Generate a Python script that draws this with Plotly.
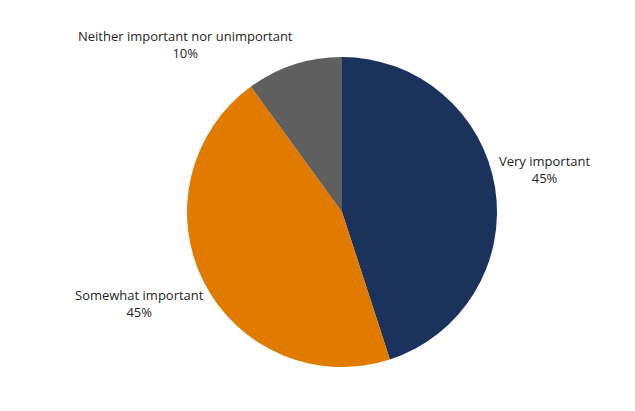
import plotly.graph_objects as go

categories = ["Very important", "Somewhat important", "Neither important nor unimportant"]
values = [45, 45, 10]
colors = ["#1b335c", "#e07b00", "#5f5f5f"]

# label anchor positions (paper coords) for each category
label_pos = [(544/635, 1-169/411), (139/635, 1-303/411), (185/635, 1-45/411)]

fig = go.Figure()
fig.add_trace(go.Pie(
    labels=categories, values=values, sort=False, direction="clockwise", rotation=0,
    marker=dict(colors=colors, line=dict(width=0)),
    textinfo="none", hoverinfo="label+percent", showlegend=False,
    domain=dict(x=[(342-155)/635, (342+155)/635], y=[1-367/411, 1-57/411]),
))

total = sum(values)
for cat, v, (x, y) in zip(categories, values, label_pos):
    fig.add_annotation(x=x, y=y, xref="paper", yref="paper", showarrow=False,
                       xanchor="center", yanchor="middle",
                       text=f"{cat}<br>{round(100*v/total)}%", align="center",
                       font=dict(family="Open Sans", size=13, color="#262626"))

fig.update_layout(width=635, height=411, margin=dict(l=0, r=0, t=0, b=0),
                  paper_bgcolor="white", plot_bgcolor="white")
fig.write_html("out.html")
